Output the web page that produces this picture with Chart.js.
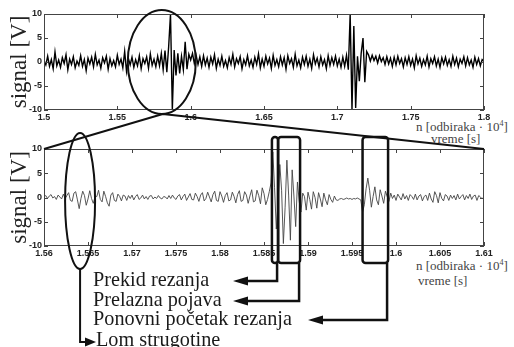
<!DOCTYPE html>
<html>
<head>
<meta charset="utf-8">
<script src="https://cdn.jsdelivr.net/npm/chart.js@4.4.1/dist/chart.umd.min.js"></script>
<style>
  html, body { margin: 0; padding: 0; background: #fff; }
  #page { position: relative; width: 514px; height: 347px; overflow: hidden; background: #fff; }
  #page canvas { position: absolute; left: 0; top: 0; }
  .axis-note { position: absolute; font: 13px "Liberation Serif", serif; color: #444; white-space: nowrap; line-height: 13px; }
  .axis-note sup { font-size: 8px; vertical-align: 5px; line-height: 0; }
  .note { position: absolute; font: 22px "Liberation Serif", serif; color: #1a1a1a; white-space: nowrap; line-height: 22px; transform: scaleX(0.92); transform-origin: 0 0; }
</style>
</head>
<body>
<div id="page">
  <div class="axis-note" style="left:416px;top:120px">n [odbiraka · 10<sup>4</sup>]</div>
  <div class="axis-note" style="left:431px;top:132px">vreme [s]</div>
  <div class="axis-note" style="left:416px;top:259px">n [odbiraka · 10<sup>4</sup>]</div>
  <div class="axis-note" style="left:418px;top:274px">vreme [s]</div>
  <canvas id="topChart" width="514" height="347"></canvas>
  <canvas id="bottomChart" width="514" height="347"></canvas>
  <div class="note" style="left:93px;top:268px">Prekid rezanja</div>
  <div class="note" style="left:93px;top:288px">Prelazna pojava</div>
  <div class="note" style="left:93px;top:307px">Ponovni početak rezanja</div>
  <div class="note" style="left:96px;top:328px">Lom strugotine</div>
</div>
<script>
// axis ticks
const topTickValues = [1.5, 1.55, 1.6, 1.65, 1.7, 1.75, 1.8];
const topTickLabels = ["1.5", "1.55", "1.6", "1.65", "1.7", "1.75", "1.8"];
const bottomTickValues = [1.56, 1.565, 1.57, 1.575, 1.58, 1.585, 1.59, 1.595, 1.6, 1.605, 1.61];
const bottomTickLabels = ["1.56", "1.565", "1.57", "1.575", "1.58", "1.585", "1.59", "1.595", "1.6", "1.605", "1.61"];
const yTickValues = [-10, -5, 0, 5, 10];
const yTickLabels = ["-10", "-5", "0", "5", "10"];

// upper record: samples every 0.00125 starting at 1.5
const topStart = 1.5;
const topStep = 0.00125;
const topSignal = [
  0.3, -0.6, 1.2, -0.9, 0.5, -1.4, 2.1, -0.8, 0.4, -1.1,
  0.9, -0.3, 1.5, -1.6, 0.6, -0.5, 1.1, -1.2, 0.2, -0.7,
  1.3, -0.9, 0.5, -1.8, 0.8, -0.4, 1.0, -1.0, 1.6, -0.6,
  0.4, -1.3, 0.9, -0.2, 1.2, -1.5, 0.7, -0.8, 0.3, -1.0,
  1.4, -0.5, 0.6, -1.2, 2.2, -1.9, 0.8, -0.6, 1.0, -1.1,
  0.5, -0.8, 1.3, -1.4, 0.7, -0.3, 1.1, -1.3, 1.7, -0.7,
  0.6, -1.0, 1.2, -0.8, 1.8, -1.6, 2.4, -2.1, 3.2, 10,
  -10, 2.5, -2.8, 1.8, -2.4, 1.2, -1.6, 4.2, -1.5, 1.6,
  0.4, 1.8, -0.3, 1.4, -0.5, 1.1, -0.9, 1.3, -0.6, 0.8,
  -1.1, 1.0, -0.4, 1.5, -1.3, 0.6, -0.7, 1.2, -0.9, 0.3,
  -1.2, 0.9, -0.5, 1.6, -1.0, 0.7, -0.3, 1.1, -1.4, 0.5,
  -0.6, 1.3, -0.8, 0.4, -1.1, 1.0, -0.5, 1.7, -1.2, 0.6,
  -0.9, 1.2, -0.4, 0.8, -1.3, 1.4, -0.7, 0.5, -1.0, 1.1,
  -0.6, 0.9, -1.5, 1.3, -0.3, 0.7, -1.1, 1.6, -0.8, 0.4,
  -1.2, 1.0, -0.5, 1.2, -0.9, 0.6, -1.3, 1.5, -0.4, 0.8,
  -1.0, 1.1, -0.6, 0.5, -1.4, 1.3, -0.7, 0.9, -0.5, 1.2,
  -0.8, 0.6, -1.1, 1.0, -0.9, 1.4, -1.6, 10, -10, 7.5,
  -9.6, 1.2, -4.0, 1.8, 5.0, -4.2, 2.2, 1.5, 0.2, 1.4,
  0.3, 1.2, -0.2, 1.3, 0.1, 0.9, -0.5, 1.1, -0.4, 0.8,
  -0.9, 1.0, -0.6, 1.2, -0.3, 0.7, -1.0, 0.9, -0.5, 1.1,
  -0.7, 0.6, -1.2, 1.3, -0.4, 0.8, -0.9, 0.5, -0.6, 1.2,
  -1.0, 0.7, -0.3, 1.1, -0.8, 0.6, -1.1, 0.9, -0.4, 1.0,
  -0.7, 0.5, -0.9, 1.2, -0.5, 0.8, -1.0, 0.6, -0.3, 1.1,
  -0.8, 0.9, -0.6, 0.4, -1.1, 1.0, -0.5, 0.7, -0.8, 0.5,
  0.1
];

// lower record (zoomed): samples every 0.0002 starting at 1.56
const bottomStart = 1.56;
const bottomStep = 0.0002;
const bottomSignal = [
  0.1, 0.4, -0.2, 0.3, 0.6, -0.1, 0.2, -0.4, 0.5, 0.1,
  -0.3, 0.7, -0.2, 0.4, 1.0, -0.6, -0.8, 0.9, 1.2, -0.5,
  -2.3, -0.2, 1.3, 0.4, -1.6, -0.3, 1.4, -0.2, -1.2, 0.1,
  0.2, 1.5, -0.4, -0.9, 1.3, 0.2, -1.1, -1.8, 0.5, 1.0,
  -0.6, -0.8, 0.7, 0.2, -0.7, 0.5, 0.3, -0.6, 0.4, -0.2,
  0.5, -0.5, 0.2, 0.6, -0.4, -0.1, 0.5, -0.3, 0.2, -0.4,
  0.3, 0.4, -0.3, 0.1, -0.2, 0.4, -0.1, -0.3, 0.2, 0.1,
  -0.3, 0.4, -0.2, 0.5, -0.1, -0.4, 0.3, 0.6, -0.5, 0.2,
  0.7, -0.6, 0.1, 0.8, -0.4, -0.5, 0.9, 0.2, -0.8, 0.5,
  1.0, -0.7, -0.2, 1.1, 0.1, -0.9, 0.6, 1.3, -0.6, -0.8,
  1.2, 0.3, -1.0, 0.4, 1.0, -0.7, -0.5, 1.1, 0.2, -1.1,
  0.6, 1.4, -0.8, -0.6, 1.2, 0.5, -1.2, 0.3, 1.6, -0.9,
  -0.7, 1.5, 0.4, -1.3, 2.0, 0.8, -1.5, -0.4, 1.2, 3.0,
  9.4, 2.0, -6.5, -1.0, 6.8, 1.5, -9.5, -2.0, 7.7, 0.5,
  -8.8, 5.7, 0.3, -6.0, 3.2, -0.8, -3.0, 0.9, 0.2, -2.6,
  1.1, -0.4, -2.4, 1.2, 0.0, -2.2, 1.0, -0.3, -1.9, 0.9,
  -0.5, -1.5, 0.6, -0.4, -1.0, 0.3, -0.5, -0.6, -0.3, -0.2,
  -0.4, -0.3, -0.1, -0.3, -0.2, -0.4, -0.2, -0.3, -0.1, -0.3,
  -0.5, -3.0, -1.5, 1.8, 4.0, 1.5, -2.0, 0.2, 2.2, -0.5,
  -1.5, 1.6, 0.3, -1.2, 1.3, 0.2, -0.8, 0.9, -0.2, 0.5,
  -0.6, 0.7, 0.1, -0.5, 0.8, -0.3, 0.4, -0.6, 0.6, 0.2,
  -0.4, 0.7, -0.5, 0.3, 0.6, -0.7, 0.2, 0.5, -0.6, 0.9,
  -0.3, -1.0, 1.2, 0.4, -1.1, 1.0, -0.2, -0.7, 0.6, 0.3,
  -0.6, 0.5, -0.2, 0.4, -0.5, 0.7, -0.3, 0.2, 0.6, -0.5,
  0.4, -0.2, 0.7, -0.4, 0.3, 0.5, -0.6, 0.4, 0.1, -0.3,
  0.2
];

const tickFont = { family: "Liberation Sans", size: 9, weight: "bold" };

// x axis with fixed tick list and a fixed band height
function xAxis(min, max, values, labels) {
  return {
    type: "linear",
    min: min,
    max: max,
    afterBuildTicks: (s) => { s.ticks = values.map((v) => ({ value: v })); },
    afterFit: (s) => { s.height = 20; },
    grid: { display: false, drawTicks: false },
    border: { display: false },
    ticks: {
      autoSkip: false,
      maxRotation: 0,
      padding: 2,
      color: "#222",
      font: tickFont,
      callback: (v, i) => labels[i],
    },
  };
}

function yAxis() {
  return {
    min: -10,
    max: 10,
    afterBuildTicks: (s) => { s.ticks = yTickValues.map((v) => ({ value: v })); },
    afterFit: (s) => { s.width = 44; },
    grid: { display: false, drawTicks: false },
    border: { display: false },
    ticks: { padding: 2, color: "#222", font: tickFont, callback: (v, i) => yTickLabels[i] },
    title: {
      display: true,
      text: "signal [V]",
      color: "#222",
      font: { family: "Liberation Serif", size: 23, lineHeight: 1 },
      padding: { top: 8, bottom: 0 },
    },
  };
}

// box round the plot with inward ticks on all four sides
const frame = {
  id: "frame",
  afterDatasetsDraw(chart) {
    const { ctx, chartArea: a, scales } = chart;
    ctx.save();
    ctx.strokeStyle = "#444";
    ctx.lineWidth = 1;
    ctx.strokeRect(a.left + 0.5, a.top + 0.5, a.right - a.left - 1, a.bottom - a.top - 1);
    ctx.beginPath();
    scales.x.ticks.forEach((t) => {
      const px = Math.round(scales.x.getPixelForValue(t.value)) + 0.5;
      ctx.moveTo(px, a.bottom); ctx.lineTo(px, a.bottom - 4);
      ctx.moveTo(px, a.top); ctx.lineTo(px, a.top + 4);
    });
    scales.y.ticks.forEach((t) => {
      const py = Math.round(scales.y.getPixelForValue(t.value)) + 0.5;
      ctx.moveTo(a.left, py); ctx.lineTo(a.left + 4, py);
      ctx.moveTo(a.right, py); ctx.lineTo(a.right - 4, py);
    });
    ctx.stroke();
    ctx.restore();
  },
};

function arrowHead(ctx, tipX, tipY, dir, len, half) {
  ctx.beginPath();
  ctx.moveTo(tipX, tipY);
  ctx.lineTo(tipX - dir * len, tipY - half);
  ctx.lineTo(tipX - dir * len, tipY + half);
  ctx.closePath();
  ctx.fill();
}

// marked windows in the lower plot and where their arrows end
const marks = [
  { from: 1.5859, to: 1.5866, arrowY: 281, tipX: 233 },
  { from: 1.5866, to: 1.5891, arrowY: 301, tipX: 233 },
  { from: 1.5962, to: 1.5991, arrowY: 320, tipX: 308 },
];

// ellipses, zoom lines, boxes and arrows drawn over both plots
const annotate = {
  id: "annotate",
  afterDraw(chart) {
    const ctx = chart.ctx;
    const tx = topChart.scales.x, ty = topChart.scales.y;
    const a = chart.chartArea, x = chart.scales.x, y = chart.scales.y;
    ctx.save();
    ctx.strokeStyle = "#111";
    ctx.fillStyle = "#111";
    ctx.lineWidth = 2;

    // upper ellipse and the two zoom lines
    const ex = tx.getPixelForValue(1.5803), ey = ty.getPixelForValue(0);
    ctx.beginPath();
    ctx.ellipse(ex, ey, 34, 52, 0, 0, Math.PI * 2);
    ctx.stroke();
    ctx.beginPath();
    ctx.moveTo(ex + 1, ey + 52); ctx.lineTo(a.left, a.top);
    ctx.moveTo(ex + 1, ey + 52); ctx.lineTo(a.right, a.top);
    ctx.stroke();

    // lower ellipse with the arrow down to "Lom strugotine"
    const lx = x.getPixelForValue(1.5641), ly = y.getPixelForValue(-0.7);
    ctx.beginPath();
    ctx.ellipse(lx, ly, 15, 68, 0, 0, Math.PI * 2);
    ctx.stroke();
    ctx.beginPath();
    ctx.moveTo(lx, ly + 68); ctx.lineTo(lx, 342); ctx.lineTo(88, 342);
    ctx.stroke();
    arrowHead(ctx, 96, 342, 1, 11, 4.5);

    // boxes with arrows to the labels
    ctx.lineWidth = 2.5;
    marks.forEach((m) => {
      const x0 = x.getPixelForValue(m.from), x1 = x.getPixelForValue(m.to);
      ctx.beginPath();
      ctx.roundRect(x0, a.top - 12, x1 - x0, a.bottom - a.top + 29, 3);
      ctx.stroke();
      ctx.beginPath();
      ctx.moveTo(x1 - 1, a.bottom + 17);
      ctx.lineTo(x1 - 1, m.arrowY);
      ctx.lineTo(m.tipX + 12, m.arrowY);
      ctx.stroke();
      arrowHead(ctx, m.tipX, m.arrowY, -1, 15, 4.5);
    });
    ctx.restore();
  },
};

const topChart = new Chart(document.getElementById("topChart"), {
  type: "line",
  data: {
    datasets: [{
      data: topSignal.map((v, i) => ({ x: topStart + i * topStep, y: v })),
      borderColor: "#000",
      borderWidth: 1.4,
      pointRadius: 0,
      tension: 0,
    }],
  },
  options: {
    responsive: false,
    animation: false,
    events: [],
    layout: { padding: { left: 0, right: 30, top: 14, bottom: 217 } },
    plugins: { legend: { display: false }, tooltip: { enabled: false } },
    scales: { x: xAxis(1.5, 1.8, topTickValues, topTickLabels), y: yAxis() },
  },
  plugins: [frame],
});

const bottomChart = new Chart(document.getElementById("bottomChart"), {
  type: "line",
  data: {
    datasets: [{
      data: bottomSignal.map((v, i) => ({ x: bottomStart + i * bottomStep, y: v })),
      borderColor: "#444",
      borderWidth: 0.9,
      pointRadius: 0,
      tension: 0,
    }],
  },
  options: {
    responsive: false,
    animation: false,
    events: [],
    layout: { padding: { left: 0, right: 30, top: 149, bottom: 81 } },
    plugins: { legend: { display: false }, tooltip: { enabled: false } },
    scales: { x: xAxis(1.56, 1.61, bottomTickValues, bottomTickLabels), y: yAxis() },
  },
  plugins: [frame, annotate],
});
</script>
</body>
</html>
